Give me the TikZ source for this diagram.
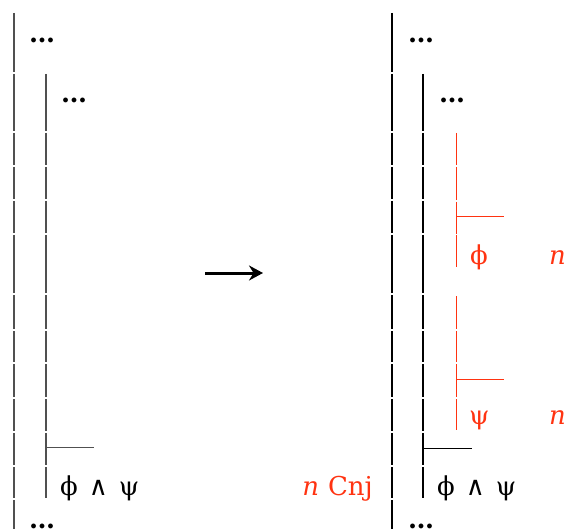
\documentclass[tikz,border=0pt]{standalone}
\usepackage{fontspec}
\setmainfont{DejaVu Serif}
\usetikzlibrary{arrows.meta}
\definecolor{FitchGray}{HTML}{505050}
\definecolor{FitchRed}{HTML}{FF3311}
\newcommand{\conjphipsi}{ϕ\hskip 11pt∧\hskip 11ptψ}

\begin{document}
\begin{tikzpicture}[
    x=1pt,y=-1pt,
    txt/.style={anchor=base west,inner sep=0pt,font=\fontsize{26}{30}\selectfont},
    redtxt/.style={txt,text=FitchRed},
    oldbar/.style={FitchGray,line width=2pt},
    newbar/.style={black,line width=1.4pt},
    redbar/.style={FitchRed,line width=1pt},
    arr/.style={-{Stealth[length=14pt,width=15pt]},line width=3pt}
  ]
    \useasboundingbox (0,0) rectangle (567,529);
    % bars of the rows, with their gaps
    \foreach \a/\b in {13/72,74/131,133/165,167/199,201/233,235/293,295/329,331/362,364/397,399/431,433/465,467/498,500/529}{
      \draw[oldbar] (14,\a) -- (14,\b);
      \draw[newbar] (392,\a) -- (392,\b);
    }
    \foreach \a/\b in {74/131,133/165,167/199,201/233,235/293,295/329,331/362,364/397,399/431,433/465,467/498}{
      \draw[oldbar] (46,\a) -- (46,\b);
      \draw[newbar] (423,\a) -- (423,\b);
    }
    \foreach \a/\b in {133/165,167/200,202/234,235/267,296/329,331/362,364/397,399/430}{
      \draw[redbar] (456,\a) -- (456,\b);
    }
    % before
    \node[txt] (ldots1) at (29,43) {\textbf{…}};
    \node[txt] (ldots2) at (61,103) {\textbf{…}};
    \coordinate (lbar) at (46,447);
    \coordinate (lbarend) at (94,447);
    \draw[FitchGray,line width=1pt] (lbar) -- (lbarend);
    \node[txt] (lconj) at (60,495) {\conjphipsi};
    \node[txt] (ldots3) at (29,528) {\textbf{…}};
    % rule
    \coordinate (from) at (205,273);
    \coordinate (to) at (263,273);
    \draw[arr] (from) -- (to);
    \node[redtxt,anchor=base east] (rule) at (373,495) {\textit{n}\hskip 9pt Cnj};
    % after
    \node[txt] (rdots1) at (408,43) {\textbf{…}};
    \node[txt] (rdots2) at (439,103) {\textbf{…}};
    \coordinate (phibar) at (456,217);
    \coordinate (phibarend) at (504,217);
    \draw[FitchRed,line width=1pt] (phibar) -- (phibarend);
    \node[redtxt] (phi) at (470,264) {ϕ};
    \node[redtxt] (phin) at (549,264) {\textit{n}};
    \coordinate (psibar) at (456,379);
    \coordinate (psibarend) at (504,379);
    \draw[FitchRed,line width=1pt] (psibar) -- (psibarend);
    \node[redtxt] (psi) at (469,424) {ψ};
    \node[redtxt] (psin) at (549,424) {\textit{n}};
    \coordinate (rbar) at (423,448);
    \coordinate (rbarend) at (472,448);
    \draw[black,line width=1pt] (rbar) -- (rbarend);
    \node[txt] (rconj) at (437,495) {\conjphipsi};
    \node[txt] (rdots3) at (408,528) {\textbf{…}};
  \end{tikzpicture}
\end{document}
